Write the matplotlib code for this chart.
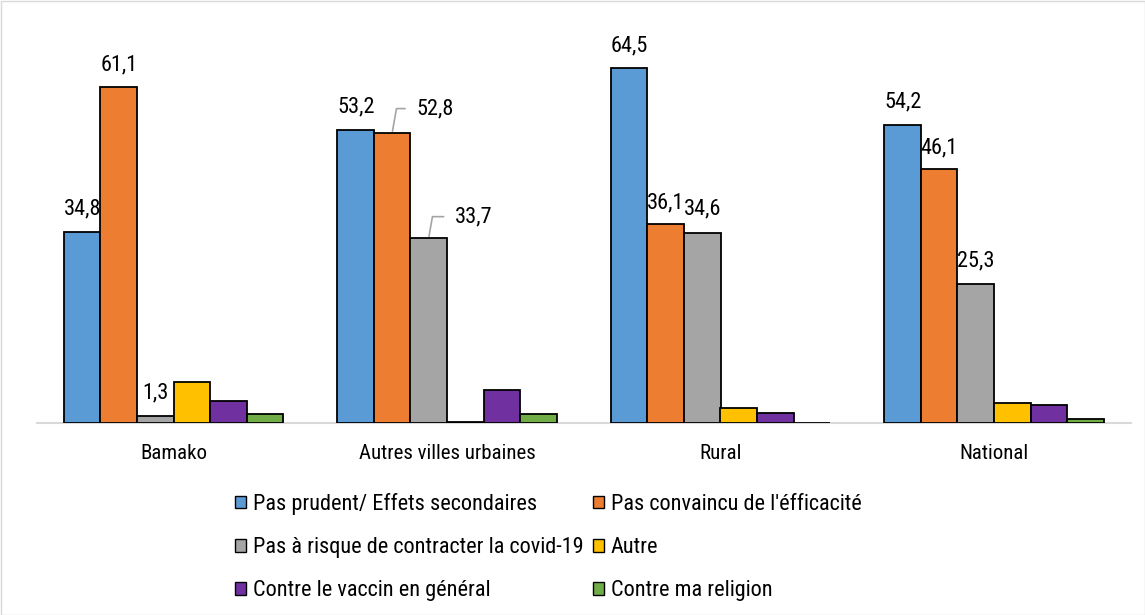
import matplotlib
matplotlib.use("Agg")
import matplotlib.pyplot as plt
from matplotlib.patches import Rectangle, Patch
from matplotlib import font_manager

tl = font_manager.fontManager.ttflist
names = {f.name for f in tl}
chosen = None
stretch = "normal"
for cand in ["Liberation Sans Narrow", "Arial Narrow", "Roboto Condensed", "Open Sans Condensed"]:
    if cand in names:
        chosen = cand
        break
if chosen is None:
    for f in tl:
        if f.name in ("Liberation Sans", "Roboto", "Open Sans", "DejaVu Sans", "Noto Sans") and \
                str(f.stretch) in ("condensed", "semi-condensed", "500", "375", "400", "extra-condensed"):
            chosen = f.name
            stretch = f.stretch
            break
if chosen is None:
    chosen = "Liberation Sans"
plt.rcParams['font.family'] = [chosen, "Liberation Sans", "DejaVu Sans"]
plt.rcParams['font.stretch'] = stretch

categories = ["Bamako", "Autres villes urbaines", "Rural", "National"]
series_names = ["Pas prudent/ Effets secondaires", "Pas convaincu de l'éfficacité",
                "Pas à risque de contracter la covid-19", "Autre",
                "Contre le vaccin en général", "Contre ma religion"]
pas_prudent = [34.8, 53.2, 64.5, 54.2]
pas_convaincu = [61.1, 52.8, 36.1, 46.1]
pas_risque = [1.3, 33.7, 34.6, 25.3]
autre = [7.5, 0.2, 2.8, 3.6]
contre_vaccin = [4.0, 6.0, 1.9, 3.3]
contre_religion = [1.6, 1.6, 0.0, 0.7]
series = [pas_prudent, pas_convaincu, pas_risque, autre, contre_vaccin, contre_religion]
colors = ["#5b9bd5", "#ed7d31", "#a5a5a5", "#ffc000", "#7030a0", "#70ad47"]

W, H = 1145, 615
fig = plt.figure(figsize=(W/100, H/100), dpi=100)
ax = fig.add_axes([36.75/W, 1-423/H, 1094/W, (423-30)/H])
ax.set_xlim(-0.5, 3.5)
ax.set_ylim(0, 393/5.5)

bw = 0.1335
for j, (vals, c) in enumerate(zip(series, colors)):
    xs = [i + (j-2.5)*bw for i in range(len(categories))]
    ax.bar(xs, vals, width=bw, color=c, edgecolor="black", linewidth=1.3, zorder=3)

for s in ["top", "right", "left"]:
    ax.spines[s].set_visible(False)
ax.spines["bottom"].set_color("#d9d9d9")
ax.spines["bottom"].set_linewidth(1.5)
ax.set_yticks([])
ax.set_xticks(range(len(categories)))
ax.set_xticklabels(categories, fontsize=15)
ax.tick_params(axis='x', length=0, pad=15)

fs = 16
def lab(j, i, dx=0, dy=17, leader=False):
    v = series[j][i]
    x = i + (j-2.5)*bw
    txt = f"{v:.1f}".replace(".", ",")
    if not leader:
        ax.annotate(txt, (x, v), xytext=(dx, dy), textcoords="offset pixels",
                    ha="center", va="baseline", fontsize=fs)
    else:
        ax.annotate(txt, (x, v), xytext=(dx, dy), textcoords="offset pixels",
                    ha="left", va="center", fontsize=fs,
                    arrowprops=dict(arrowstyle="-", color="#a5a5a5", lw=1.2,
                                    shrinkA=6, shrinkB=1,
                                    connectionstyle="angle,angleA=0,angleB=80,rad=0"))

lab(0, 0)
lab(1, 0)
lab(2, 0)
lab(0, 1, dy=18)
lab(1, 1, dx=24, dy=24, leader=True)
lab(2, 1, dx=26, dy=21, leader=True)
lab(0, 2)
lab(1, 2, dy=16)
lab(2, 2, dy=18)
lab(0, 3)
lab(1, 3, dy=16)
lab(2, 3)

order = [0, 2, 4, 1, 3, 5]
handles = [Patch(facecolor=colors[k], edgecolor="black", linewidth=1.0) for k in order]
labels = [series_names[k] for k in order]
fig.legend(handles, labels, ncol=2, loc="upper left",
           bbox_to_anchor=(235/W, 1-493/H), frameon=False, fontsize=16,
           handlelength=0.5, handleheight=0.5, handletextpad=0.32,
           columnspacing=0.4, labelspacing=1.0, borderaxespad=0, borderpad=0)

fig.add_artist(Rectangle((0.5/W, 0.5/H), 1-1/W, 1-1/H, transform=fig.transFigure,
                         fill=False, edgecolor="#d9d9d9", linewidth=1.0))

fig.savefig("out.png", dpi=100)
